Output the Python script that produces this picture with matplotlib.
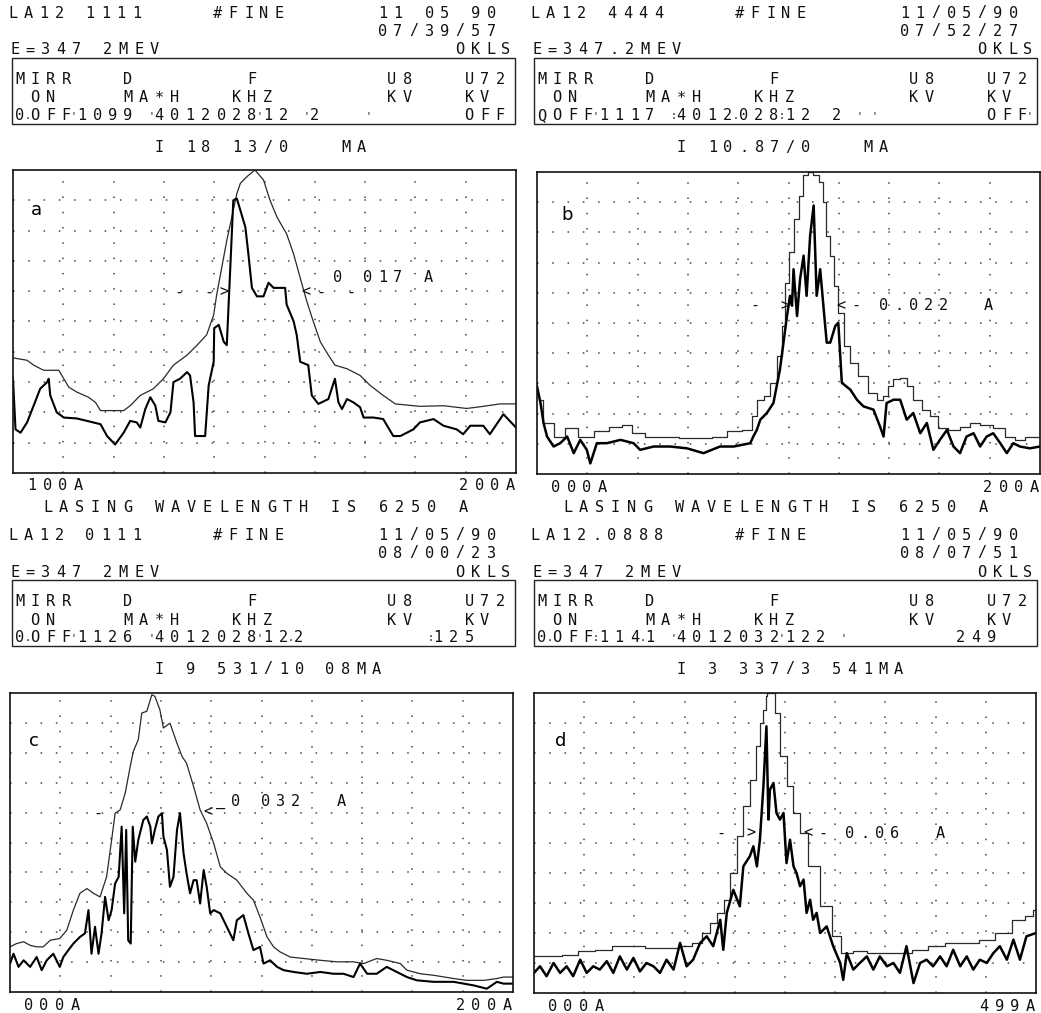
import numpy as np
import matplotlib
matplotlib.use("Agg")
import matplotlib.pyplot as plt
from matplotlib.patches import Rectangle

W, H = 1041, 1013

# ---- traces, x = % of scan window, y = % of full scale ----
a_upper_x = [0, 2.8, 4.1, 6.1, 9.1, 10.1, 11.1, 12.7, 15.0, 16.4, 17.4, 22.0, 23.3, 25.3, 27.9, 29.9, 31.9, 34.6, 36.6, 38.5,
             39.9, 40.5, 41.5, 42.5, 43.5, 44.5, 45.2, 46.5, 48.1, 49.8, 51.1, 52.5, 54.4, 55.8, 57.1, 58.4, 59.7, 61.1, 62.7, 64.0,
             66.4, 69.0, 71.0, 73.6, 76.0, 80.9, 85.6, 90.2, 93.5, 96.8, 100]
a_upper_y = [38.0, 37.2, 35.6, 33.9, 33.9, 31.1, 28.3, 26.7, 25.0, 23.3, 20.6, 20.6, 22.2, 25.6, 27.8, 31.1, 35.6, 38.9, 42.2, 45.6,
             52.2, 58.9, 67.8, 76.7, 84.4, 92.2, 95.6, 97.8, 100, 96.7, 90.0, 84.4, 78.9, 72.2, 64.4, 56.7, 50.0, 43.3, 38.9, 35.6,
             34.4, 32.2, 28.9, 25.6, 22.8, 22.0, 22.2, 21.3, 22.0, 22.8, 22.8]
a_lower_x = [0, 0.5, 1.5, 2.8, 4.1, 5.4, 6.8, 7.1, 7.4, 8.7, 10.1, 12.7, 14.7, 17.4, 18.7, 20.3, 22.0, 23.3, 24.6, 25.3,
             26.3, 27.3, 28.3, 28.9, 30.3, 31.3, 31.9, 33.2, 34.6, 35.2, 35.9, 36.2, 38.2, 38.9, 39.9, 40.0, 40.9, 41.9, 42.5, 43.2,
             43.8, 44.5, 45.2, 46.2, 46.8, 47.5, 48.5, 49.8, 50.8, 51.8, 54.1, 54.4, 55.8, 56.4, 57.1, 58.7, 59.4, 60.7, 62.7, 64.0,
             64.7, 65.4, 66.4, 67.7, 69.0, 69.7, 71.7, 73.6, 75.6, 77.0, 79.6, 80.9, 83.6, 85.6, 88.2, 89.5, 90.9, 93.5, 94.8, 97.5, 100]
a_lower_y = [31.1, 14.4, 13.3, 16.7, 22.2, 27.8, 30.0, 31.1, 25.6, 20.0, 18.3, 18.0, 17.2, 16.1, 12.2, 9.4, 13.3, 17.2, 16.7, 15.0,
             21.1, 25.0, 22.2, 17.2, 16.7, 20.0, 30.0, 31.1, 33.3, 32.2, 23.3, 12.2, 12.2, 28.9, 36.7, 47.8, 48.9, 43.3, 42.2, 67.8,
             90.0, 90.6, 86.7, 81.1, 72.2, 61.1, 58.3, 58.3, 62.8, 61.1, 61.1, 55.6, 50.0, 45.6, 36.7, 35.6, 25.6, 22.8, 24.4, 31.1,
             23.3, 21.1, 24.4, 23.3, 21.7, 18.3, 18.3, 17.8, 12.2, 12.2, 14.4, 16.7, 17.8, 15.6, 14.4, 12.8, 15.6, 15.6, 12.8, 19.4, 15.0]

b_upper_x = [0.3, 2.0, 4.6, 6.6, 9.9, 12.6, 15.9, 17.9, 19.9, 23.2, 26.5, 29.8, 33.1, 36.4, 39.1, 42.4, 43.0, 44.4, 45.7, 47.0,
             48.3, 49.0, 49.7, 50.3, 51.7, 52.6, 53.3, 54.3, 55.6, 56.6, 57.0, 57.9, 58.6, 59.3, 60.3, 61.6, 62.9, 64.9, 66.9, 68.2,
             69.5, 70.2, 71.5, 72.8, 74.2, 75.5, 77.5, 78.8, 80.8, 82.8, 85.4, 86.8, 89.4, 92.1, 94.0, 96.0, 98.0, 100]
b_upper_y = [24.6, 16.9, 12.4, 15.2, 12.4, 14.1, 15.7, 16.3, 13.5, 12.4, 12.4, 11.9, 11.9, 12.4, 14.1, 14.6, 19.1, 24.6, 25.7, 30.2,
             39.0, 49.0, 63.4, 73.4, 84.5, 92.2, 98.9, 100, 98.9, 96.7, 90.0, 78.9, 72.3, 62.3, 53.4, 42.4, 36.8, 32.4, 26.8, 24.6,
             25.7, 29.0, 31.3, 31.8, 29.0, 24.6, 21.3, 19.1, 15.2, 14.6, 15.7, 16.9, 16.3, 15.2, 12.4, 11.3, 12.4, 12.4]
b_lower_x = [0, 0.7, 1.3, 2.0, 3.3, 4.6, 6.0, 7.3, 8.6, 9.9, 10.6, 11.9, 13.9, 16.6, 19.2, 20.5, 23.2, 26.5, 29.8, 33.1,
             36.4, 39.1, 42.4, 43.0, 43.7, 44.4, 45.7, 47.0, 48.3, 49.0, 49.7, 50.3, 50.7, 51.0, 51.7, 52.3, 53.0, 53.6, 54.3, 55.0,
             55.6, 56.3, 57.0, 57.6, 58.3, 59.3, 59.9, 60.6, 62.3, 63.6, 64.9, 66.9, 68.2, 68.9, 69.5, 70.9, 72.2, 73.5, 74.8, 76.2,
             77.5, 78.8, 80.1, 81.5, 82.8, 84.1, 85.4, 86.8, 88.1, 89.4, 90.7, 92.1, 93.4, 94.7, 96.0, 98.0, 100]
b_lower_y = [29.0, 23.5, 16.9, 12.4, 9.1, 10.2, 12.4, 6.9, 11.3, 8.0, 3.5, 10.2, 10.2, 11.3, 10.2, 8.0, 9.1, 9.1, 8.5, 6.9,
             9.1, 9.1, 10.2, 12.4, 14.6, 18.0, 20.2, 23.5, 34.6, 43.5, 52.3, 59.0, 55.7, 67.8, 52.3, 64.5, 72.3, 59.0, 78.9, 88.9,
             59.0, 67.8, 54.5, 43.5, 43.5, 49.0, 50.1, 30.2, 27.9, 24.6, 22.4, 21.3, 15.7, 12.4, 23.5, 24.6, 24.6, 18.0, 20.2, 13.5,
             16.9, 8.0, 11.3, 14.6, 9.1, 6.9, 12.4, 13.5, 9.1, 12.4, 13.5, 10.2, 6.9, 10.2, 9.1, 8.5, 9.1]

c_upper_x = [0, 1.3, 2.7, 4.0, 5.3, 6.6, 8.0, 9.9, 11.3, 12.6, 13.9, 15.3, 16.6, 17.9, 19.2, 20.2, 20.9, 21.9, 22.9, 23.9,
             24.5, 25.5, 26.2, 27.2, 28.2, 28.8, 29.8, 30.5, 31.8, 33.2, 34.2, 35.1, 36.5, 37.8, 39.1, 40.5, 41.8, 43.1, 45.1, 47.1,
             48.4, 49.7, 51.1, 52.4, 53.7, 55.7, 58.4, 61.7, 65.0, 68.3, 70.3, 72.9, 74.9, 77.6, 78.9, 81.6, 84.2, 88.2, 90.8, 94.2,
             96.8, 98.1, 100]
c_upper_y = [15.1, 16.2, 16.8, 15.6, 15.1, 15.1, 17.3, 17.9, 20.7, 27.4, 33.0, 34.6, 33.0, 31.8, 38.5, 50.8, 59.8, 60.9, 66.5, 75.4,
             80.4, 84.4, 93.3, 93.9, 99.4, 98.9, 94.4, 88.3, 89.9, 83.2, 78.8, 76.5, 68.7, 60.9, 56.4, 49.7, 41.9, 39.7, 37.4, 33.0,
             30.7, 25.1, 18.4, 15.1, 13.4, 11.7, 11.2, 10.6, 10.1, 10.1, 9.5, 11.2, 10.6, 9.5, 7.3, 6.1, 5.6, 4.5, 3.9, 3.9,
             4.5, 5.0, 5.0]
c_lower_x = [0, 0.7, 1.7, 2.7, 4.0, 5.3, 6.3, 7.3, 8.6, 9.9, 10.6, 11.6, 12.6, 13.9, 14.9, 15.6, 16.2, 16.9, 17.6, 18.2,
             18.9, 19.6, 20.2, 20.9, 21.6, 22.2, 22.7, 23.1, 23.5, 24.0, 24.4, 24.9, 25.5, 26.5, 27.2, 27.9, 28.2, 28.8, 29.5, 30.2,
             30.5, 31.2, 31.8, 32.5, 33.2, 33.8, 34.5, 35.1, 35.8, 36.5, 37.1, 37.8, 38.5, 39.1, 39.8, 40.5, 41.8, 43.1, 44.4, 45.1,
             46.4, 47.4, 48.4, 49.7, 50.4, 51.7, 53.1, 54.4, 56.4, 59.0, 61.7, 64.3, 66.3, 68.3, 69.6, 71.0, 72.9, 74.9, 76.9, 78.9,
             80.9, 84.2, 88.2, 92.2, 94.8, 96.8, 98.1, 100]
c_lower_y = [9.5, 12.8, 8.4, 10.6, 8.4, 11.7, 7.3, 10.6, 12.8, 8.4, 11.7, 14.0, 16.2, 18.4, 19.6, 27.4, 12.8, 21.8, 12.8, 19.6,
             31.8, 24.0, 27.4, 36.3, 38.5, 55.3, 26.3, 54.2, 17.3, 16.2, 55.3, 43.6, 50.8, 57.5, 58.7, 55.3, 49.7, 54.2, 58.7, 59.8,
             52.0, 47.5, 35.2, 38.5, 54.2, 59.8, 46.4, 39.7, 33.0, 37.4, 37.4, 29.6, 40.8, 35.2, 26.3, 27.4, 26.3, 21.8, 17.3, 24.0,
             25.7, 19.6, 14.0, 15.1, 9.5, 10.6, 8.4, 7.3, 6.7, 6.1, 6.7, 6.1, 6.1, 5.0, 9.5, 6.1, 6.1, 8.4, 6.7, 5.0,
             3.9, 3.4, 3.4, 2.2, 1.1, 3.4, 2.8, 2.8]

d_upper_x = [0, 3.9, 7.2, 10.5, 13.8, 17.1, 20.5, 23.8, 27.1, 30.4, 32.4, 34.4, 35.7, 37.1, 38.4, 39.7, 41.0, 42.4, 43.7, 44.7,
             45.4, 46.0, 46.3, 46.7, 47.7, 48.3, 49.7, 51.0, 52.3, 53.7, 55.6, 58.3, 60.3, 62.0, 64.9, 67.6, 70.3, 73.6, 76.9, 80.2,
             83.5, 86.9, 90.2, 93.5, 96.8, 98.8, 100]
d_upper_y = [12.2, 12.2, 12.8, 13.9, 14.4, 15.6, 15.6, 15.0, 15.0, 15.6, 16.7, 20.0, 23.3, 26.7, 31.1, 40.0, 52.2, 62.2, 71.1, 82.2,
             90.0, 94.4, 98.9, 100, 100, 93.3, 78.9, 68.9, 60.0, 53.3, 42.2, 28.9, 18.9, 13.3, 13.9, 13.3, 13.3, 13.3, 14.4, 15.6,
             16.7, 16.7, 17.8, 20.0, 24.4, 25.6, 27.8]
d_lower_x = [0, 1.2, 2.5, 3.9, 5.2, 6.5, 7.8, 9.2, 10.5, 11.8, 13.1, 14.5, 15.8, 17.1, 18.5, 19.8, 21.1, 22.4, 23.8, 25.1,
             26.4, 27.8, 29.1, 30.4, 31.7, 33.1, 34.4, 35.7, 37.1, 37.7, 38.4, 39.7, 41.0, 41.7, 43.0, 43.7, 44.4, 45.0, 45.7, 46.3,
             46.7, 47.0, 47.7, 48.3, 49.0, 49.7, 50.3, 51.0, 51.7, 52.3, 53.0, 53.7, 54.3, 55.0, 55.6, 56.3, 57.0, 58.3, 59.6, 61.0,
             61.6, 62.3, 63.6, 64.9, 66.3, 67.6, 68.9, 70.3, 71.6, 72.9, 74.2, 75.6, 76.9, 78.2, 79.5, 80.9, 82.2, 83.5, 84.9, 86.2,
             87.5, 88.8, 90.2, 91.5, 92.8, 94.2, 95.5, 96.8, 98.1, 100]
d_lower_y = [6.7, 8.9, 5.6, 10.0, 6.7, 8.9, 5.6, 11.1, 6.7, 8.9, 7.8, 10.6, 6.7, 12.2, 7.8, 11.7, 7.2, 10.0, 8.9, 6.7,
             11.1, 7.8, 16.7, 8.9, 11.1, 16.7, 18.9, 15.6, 24.4, 14.4, 26.7, 34.4, 28.9, 42.2, 45.6, 48.9, 42.2, 51.1, 68.9, 88.9,
             57.8, 67.8, 70.0, 60.0, 57.8, 60.0, 43.3, 51.1, 42.2, 40.0, 35.6, 37.8, 26.7, 31.1, 24.4, 26.7, 20.0, 22.2, 15.6, 10.0,
             4.4, 13.3, 7.8, 10.0, 12.2, 7.8, 12.2, 8.9, 10.0, 6.7, 15.6, 3.3, 10.0, 11.1, 8.9, 12.2, 8.9, 14.4, 8.9, 12.2,
             7.8, 11.1, 10.0, 13.3, 15.6, 11.1, 17.8, 11.1, 18.9, 20.0]

# ---- printed texts ----
run_ids = ["LA12 1111", "LA12 4444", "LA12 0111", "LA12.0888"]
dates = ["11 05 90", "11/05/90", "11/05/90", "11/05/90"]
times = ["07/39/57", "07/52/27", "08/00/23", "08/07/51"]
energies = ["E=347 2MEV", "E=347.2MEV", "E=347 2MEV", "E=347 2MEV"]
currents = ["I 18 13/0   MA", "I 10.87/0   MA", "I 9 531/10 08MA", "I 3 337/3 541MA"]
row1 = "MIRR   D       F        U8   U72"
row2 = " ON    MA*H   KHZ       KV   KV"
# third line of each box: (column, text); half columns hold the small separators
row3 = [
    [(0, "0"), (0.5, "."), (1, "OFF"), (3.5, "'"), (4, "109"), (7, "9"), (8.5, "'"), (9, "4012"), (13, "028"),
     (15.5, "'"), (16, "12"), (18.5, "'"), (19, "2"), (22.5, "'"), (29, "OFF")],
    [(0, "Q"), (1, "OFF"), (3.5, "'"), (4, "111"), (7, "7"), (8.5, ":"), (9, "4012"), (12.5, "."), (13, "028"),
     (15.5, ":"), (16, "12"), (19, "2"), (20.5, "'"), (21.5, "'"), (29, "OFF"), (31.5, "'")],
    [(0, "0"), (0.5, "."), (1, "OFF"), (3.5, "'"), (4, "112"), (7, "6"), (8.5, "'"), (9, "4012"), (13, "028"),
     (15.5, "'"), (16, "12"), (17.5, "."), (18, "2"), (26.5, ":"), (27, "125")],
    [(0, "0"), (0.5, "."), (1, "OFF"), (3.5, ":"), (4, "114"), (6.5, "."), (7, "1"), (8.5, "'"), (9, "4012"), (13, "032"),
     (15.5, "'"), (16, "12"), (18, "2"), (19.5, "'"), (27, "249")],
]
x_start = ["100A", "000A", "000A", "000A"]
x_end = ["200A", "200A", "200A", "499A"]
letters = ["a", "b", "c", "d"]
widths = ["0 017 A", "0.022  A", "0 032  A", "0.06  A"]
lasing = "LASING WAVELENGTH IS 6250 A"

panels = [
    (a_upper_x, a_upper_y, a_lower_x, a_lower_y),
    (b_upper_x, b_upper_y, b_lower_x, b_lower_y),
    (c_upper_x, c_upper_y, c_lower_x, c_lower_y),
    (d_upper_x, d_upper_y, d_lower_x, d_lower_y),
]

fig = plt.figure(figsize=(W / 100, H / 100), dpi=100)
fig.patch.set_facecolor("white")

PITCH = 15.5
MONO = dict(family="DejaVu Sans Mono", size=11, color="#111111")
GLYPH = 0.602 * 11 * 100 / 72  # advance of one mono glyph in pixels


def dm(x, y, s, pitch=PITCH, **kw):
    # dot-matrix style: every character on a fixed column
    style = dict(MONO)
    style.update(kw)
    for i, ch in enumerate(s):
        if ch != " ":
            fig.text((x + i * pitch) / W, 1 - y / H, ch, ha="left", va="center", **style)


def sep(x, y, ch):
    # small separator printed in the gap between two columns
    fig.text(x / W, 1 - y / H, ch, ha="center", va="center",
             family="DejaVu Sans Mono", size=7, color="#111111")


blocks = [(0, 0), (522, 0), (0, 522), (522, 522)]
plot_boxes = [(13, 170, 516, 473), (537, 172, 1040, 474), (10, 693, 513, 992), (534, 693, 1036, 993)]
label_pos = [(0.046, 0.867), (0.06, 0.856), (0.048, 0.838), (0.053, 0.839)]
arrows = [
    [(0.32, 0.597, "- ->"), (0.574, 0.597, "<- -"), (0.637, 0.646, widths[0])],
    [(0.424, 0.557, "- >"), (0.596, 0.557, "<-"), (0.68, 0.557, widths[1])],
    [(0.166, 0.598, "-"), (0.385, 0.603, "<"), (0.41, 0.637, "_" + widths[2])],
    [(0.364, 0.533, "- >"), (0.537, 0.533, "<-"), (0.62, 0.533, widths[3])],
]

for k in range(4):
    bx, by = blocks[k]
    dm(bx + 8, by + 13, run_ids[k])
    dm(bx + 213, by + 13, "#FINE")
    dm(bx + 378, by + 13, dates[k])
    dm(bx + 378, by + 31, times[k])
    dm(bx + 10, by + 50, energies[k])
    dm(bx + 455, by + 50, "OKLS")

    fig.patches.append(Rectangle(((bx + 12) / W, 1 - (by + 124) / H), 503 / W, 66 / H,
                                 transform=fig.transFigure, fill=False, lw=1.0, ec="#222222"))
    dm(bx + 15, by + 79, row1)
    dm(bx + 15, by + 98, row2)
    for col, txt in row3[k]:
        if float(col).is_integer():
            dm(bx + 15 + col * PITCH, by + 116, txt)
        else:
            sep(bx + 15 + col * PITCH + GLYPH / 2, by + 116, txt)

    dm(bx + 155, by + 147, currents[k])

    l, t, r, b = plot_boxes[k]
    ax = fig.add_axes([l / W, 1 - b / H, (r - l) / W, (b - t) / H])
    ux, uy, lx, ly = panels[k]
    # the fast scans (b, d) print their envelope as a staircase
    ax.plot(ux, uy, color="#2a2a2a", lw=0.9, drawstyle="steps-mid" if k in (1, 3) else "default")
    ax.plot(lx, ly, color="black", lw=1.8 if k in (1, 3) else 1.5)
    ax.set_xlim(0, 100)
    ax.set_ylim(0, 100)
    ax.set_xticks(np.arange(10, 100, 10))
    ax.set_yticks(np.arange(10, 100, 10))
    ax.tick_params(length=0, labelbottom=False, labelleft=False)
    ax.grid(True, color="#444444", lw=1.1, linestyle=(0, (1, 9)))
    for sp in ax.spines.values():
        sp.set_linewidth(1.2)
        sp.set_color("#111111")
    ax.text(label_pos[k][0], label_pos[k][1], letters[k], transform=ax.transAxes,
            ha="center", va="center", fontsize=13, family="DejaVu Sans")

    for axx, axy, s in arrows[k]:
        dm(l + axx * (r - l), t + (1 - axy) * (b - t), s, pitch=15)

    dm(l + 14, b + 13, x_start[k])
    dm(r - 57, b + 13, x_end[k])

dm(43, 507, lasing, pitch=16)
dm(563, 507, lasing, pitch=16)

fig.savefig("out.png", dpi=100, facecolor="white")
